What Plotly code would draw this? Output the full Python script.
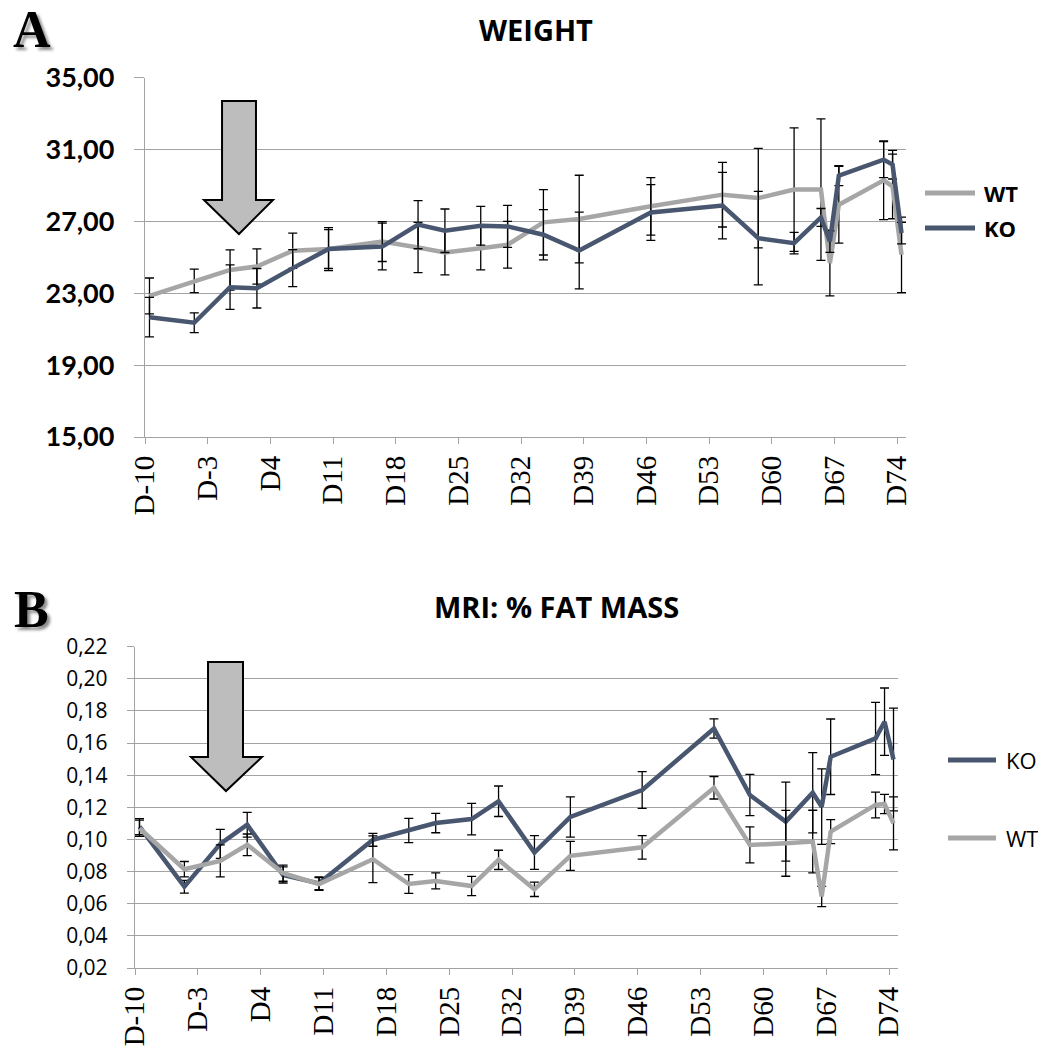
import plotly.graph_objects as go

# study days (points sit mid-day, Excel date-axis style)
days = [-10, -5, -1, 2, 6, 10, 16, 20, 23, 27, 30, 34, 38, 46, 54, 58, 62, 65, 66, 67, 72, 73, 74]
tick_days = [-10, -3, 4, 11, 18, 25, 32, 39, 46, 53, 60, 67, 74]
tick_labels = ["D" + str(d) for d in tick_days]

# panel A: body weight (g)
weight_wt = [22.85, 23.69, 24.30, 24.49, 25.37, 25.46, 25.88, 25.55, 25.27, 25.51, 25.70, 26.95,
             27.13, 27.84, 28.49, 28.30, 28.77, 28.77, 24.68, 27.93, 29.29, 28.95, 25.14]
weight_wt_err = [1.0, 0.65, 1.12, 0.98, 0.98, 1.08, 1.11, 1.4, 1.24, 1.21, 1.3, 1.82,
                 2.44, 1.6, 1.8, 2.77, 3.44, 3.94, 1.83, 2.14, 2.19, 1.8, 2.1]
weight_ko = [21.67, 21.36, 23.34, 23.28, 24.40, 25.46, 25.60, 26.82, 26.48, 26.76, 26.72, 26.26,
             25.38, 27.50, 27.88, 26.07, 25.79, 27.22, 25.88, 29.55, 30.44, 30.16, 26.35]
weight_ko_err = [1.1, 0.55, 1.24, 1.1, 1.03, 1.2, 1.3, 1.34, 1.21, 1.08, 1.17, 1.4,
                 2.14, 1.55, 1.85, 2.6, 0.6, 0.5, 0.6, 0.56, 1.0, 0.8, 0.6]

# panel B: MRI fat mass fraction
fat_ko = [0.108, 0.0706, 0.0973, 0.1092, 0.0779, 0.0727, 0.0998, 0.1056, 0.1102, 0.1127, 0.1238, 0.0919,
          0.114, 0.1308, 0.1691, 0.1277, 0.1111, 0.1291, 0.1204, 0.1515, 0.1629, 0.1733, 0.1498]
fat_ko_err = [0.005, 0.004, 0.009, 0.0077, 0.005, 0.004, 0.004, 0.0075, 0.006, 0.0098, 0.0095, 0.0105,
              0.0125, 0.0115, 0.006, 0.0128, 0.0246, 0.025, 0.0235, 0.0235, 0.0225, 0.021, 0.032]
fat_wt = [0.107, 0.0815, 0.0867, 0.0967, 0.079, 0.0723, 0.0877, 0.0723, 0.0742, 0.0710, 0.0873, 0.069,
          0.0898, 0.0951, 0.1322, 0.0966, 0.0976, 0.0987, 0.0645, 0.1049, 0.1215, 0.1221, 0.110]
fat_wt_err = [0.005, 0.0048, 0.01, 0.0067, 0.005, 0.004, 0.0146, 0.0058, 0.005, 0.006, 0.006, 0.0045,
              0.009, 0.0073, 0.007, 0.0112, 0.0205, 0.0195, 0.0063, 0.0075, 0.008, 0.006, 0.0165]

# the page body keeps its default 8px margin, so the figure is 8px smaller and all
# layout positions below are given in page pixels and shifted back by that margin
PAGE_MARGIN = 8
W, H = 1046 - PAGE_MARGIN, 1049 - PAGE_MARGIN
KO_COLOR = "#48576f"
WT_COLOR = "#a6a6a6"
GRID = "#a3a3a3"

x_mid = [d + 0.5 for d in days]


def px(x):
    return (x - PAGE_MARGIN) / W


def py(y):
    return 1 - (y - PAGE_MARGIN) / H


def err(vals):
    return dict(type="data", array=vals, visible=True, color="black", thickness=1.3, width=4.5)


fig = go.Figure()

fig.add_trace(go.Scatter(x=x_mid, y=weight_wt, mode="lines", name="WT", line=dict(color=WT_COLOR, width=4.5),
                         error_y=err(weight_wt_err), xaxis="x", yaxis="y"))
fig.add_trace(go.Scatter(x=x_mid, y=weight_ko, mode="lines", name="KO", line=dict(color=KO_COLOR, width=4.5),
                         error_y=err(weight_ko_err), xaxis="x", yaxis="y"))
fig.add_trace(go.Scatter(x=x_mid, y=fat_ko, mode="lines", name="KO", line=dict(color=KO_COLOR, width=4.5),
                         error_y=err(fat_ko_err), xaxis="x2", yaxis="y2"))
fig.add_trace(go.Scatter(x=x_mid, y=fat_wt, mode="lines", name="WT", line=dict(color=WT_COLOR, width=4.5),
                         error_y=err(fat_wt_err), xaxis="x2", yaxis="y2"))

xtick_font = dict(family="Liberation Serif", size=29, color="black")

xcommon = dict(range=[-10, 75], tickmode="array", tickvals=tick_days, ticktext=tick_labels,
               tickangle=-90, tickfont=xtick_font, showgrid=False, zeroline=False, automargin=False,
               showline=True, linecolor=GRID, linewidth=1.3, ticks="outside", ticklen=6,
               tickcolor=GRID, tickwidth=1.3)

fig.update_layout(
    width=W, height=H,
    margin=dict(l=0, r=0, t=0, b=0, autoexpand=False),
    paper_bgcolor="white", plot_bgcolor="white",
    separators=",.",
    showlegend=False,
    xaxis=dict(domain=[px(145), px(906)], anchor="y", **xcommon),
    yaxis=dict(domain=[py(437), py(77.7)], anchor="x", range=[15, 35], tick0=15, dtick=4,
               tickformat=".2f", showgrid=True, gridcolor=GRID, gridwidth=1.3, automargin=False,
               showline=True, linecolor=GRID, linewidth=1.3, zeroline=False,
               ticks="outside", ticklen=10, tickcolor=GRID, tickwidth=1.3,
               ticklabelstandoff=14,
               tickfont=dict(family="Lato", size=27, color="black", weight="bold")),
    xaxis2=dict(domain=[px(135), px(898)], anchor="y2", **xcommon),
    yaxis2=dict(domain=[py(968), py(646.7)], anchor="x2", range=[0.02, 0.22], tick0=0.02, dtick=0.02,
                tickformat=".2f", showgrid=True, gridcolor=GRID, gridwidth=1.3, automargin=False,
                showline=True, linecolor=GRID, linewidth=1.3, zeroline=False,
                ticks="outside", ticklen=7, tickcolor=GRID, tickwidth=1.3,
                ticklabelstandoff=15,
                tickfont=dict(family="Open Sans", size=21, color="black")),
)

# panel titles and letters
annots = [
    dict(text="WEIGHT", x=px(536), y=py(30), font=dict(family="Open Sans", size=29, color="black", weight="bold")),
    dict(text="MRI: % FAT MASS", x=px(556), y=py(606), font=dict(family="Open Sans", size=29, color="black", weight="bold")),
]
for letter, lx, ly in [("A", 32, 29), ("B", 31, 609)]:
    annots.append(dict(text=letter, x=px(lx), y=py(ly),
                       font=dict(family="Liberation Serif", size=52, color="black", weight="bold",
                                 shadow="3px 3px 3px rgba(0,0,0,0.45)")))

# custom legends (line sample + label)
shapes = []
legend_items = [
    ("WT", WT_COLOR, 925, 975, 193, 982, "bold"),
    ("KO", KO_COLOR, 925, 975, 228, 982, "bold"),
    ("KO", KO_COLOR, 948, 996, 760, 1004, "normal"),
    ("WT", WT_COLOR, 948, 996, 838, 1004, "normal"),
]
for name, color, x0, x1, yy, tx, wgt in legend_items:
    shapes.append(dict(type="line", xref="paper", yref="paper", x0=px(x0), x1=px(x1), y0=py(yy), y1=py(yy),
                       line=dict(color=color, width=5)))
    annots.append(dict(text=name, x=px(tx), y=py(yy), xanchor="left",
                       font=dict(family="Open Sans", size=22, color="black", weight=wgt)))

for a in annots:
    a.setdefault("xanchor", "center")
    a.update(xref="paper", yref="paper", yanchor="middle", showarrow=False)
fig.update_layout(annotations=annots)


# block arrows marking the treatment start
def arrow_path(sl, sr, top, base, hl, hr, tipx, tipy):
    pts = [(sl, top), (sr, top), (sr, base), (hr, base), (tipx, tipy), (hl, base), (sl, base)]
    return "M " + " L ".join(f"{px(a):.4f},{py(b):.4f}" for a, b in pts) + " Z"


shapes.append(dict(type="path", xref="paper", yref="paper",
                   path=arrow_path(222, 256, 101, 200, 204, 273, 239, 234),
                   fillcolor="#bdbdbd", line=dict(color="black", width=2)))
shapes.append(dict(type="path", xref="paper", yref="paper",
                   path=arrow_path(208, 243, 662, 757, 191, 262, 226, 791),
                   fillcolor="#bdbdbd", line=dict(color="black", width=2)))
fig.update_layout(shapes=shapes)

fig.write_html("out.html")
